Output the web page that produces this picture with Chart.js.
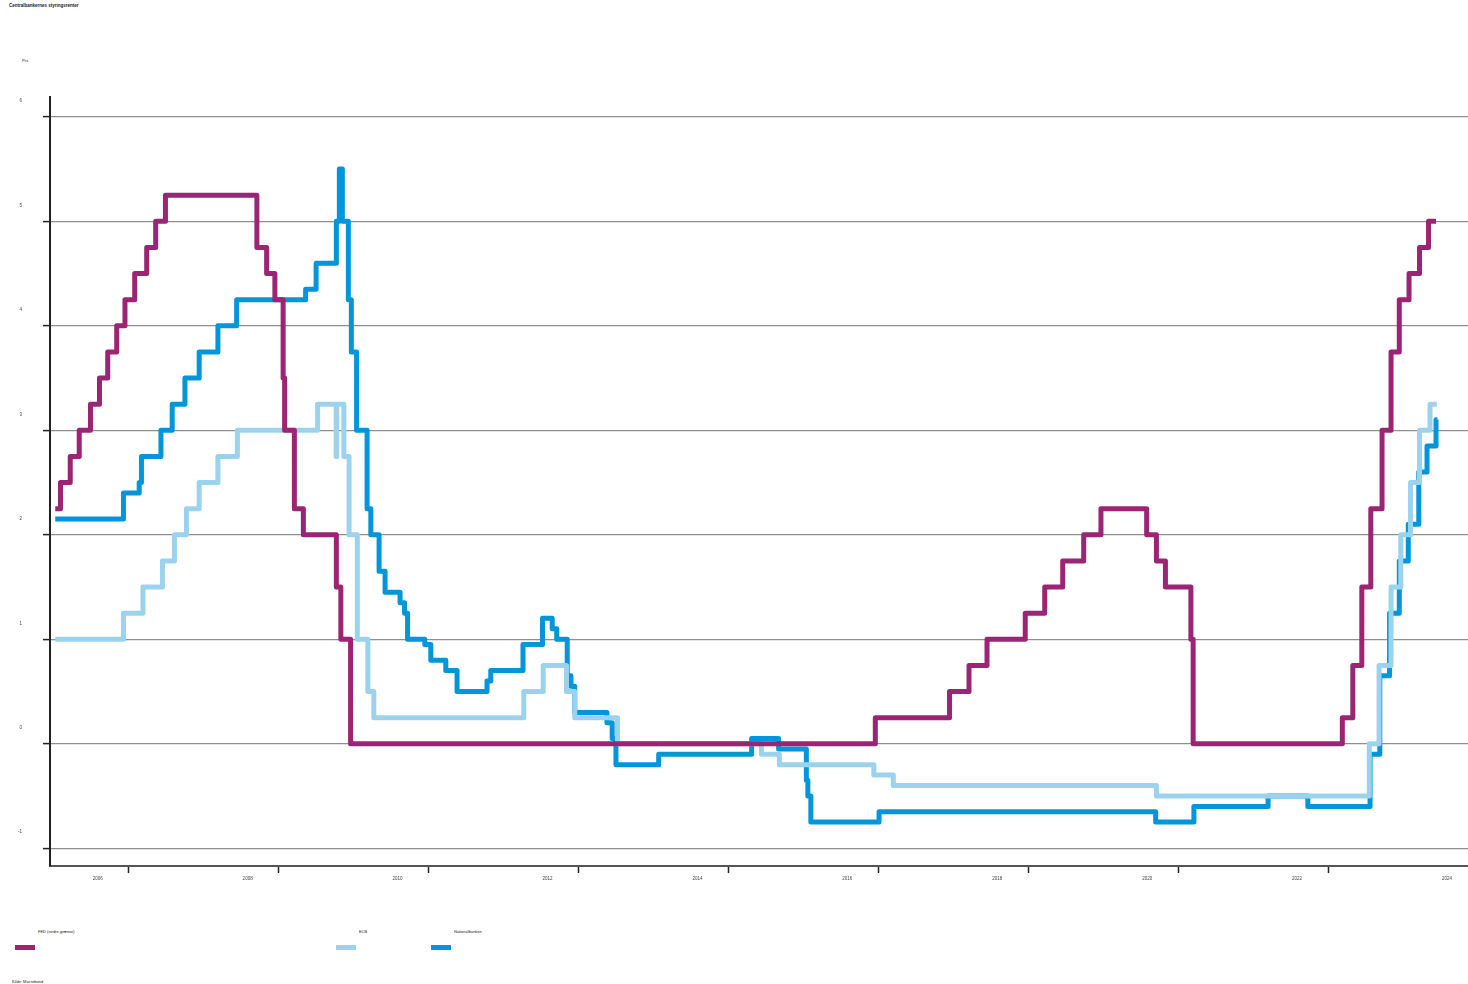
<!DOCTYPE html>
<html>
<head>
<meta charset="utf-8">
<script src="https://cdn.jsdelivr.net/npm/chart.js@4.4.0/dist/chart.umd.min.js"></script>
<style>
  html, body { margin: 0; padding: 0; background: #fff; overflow: hidden; }
  body { width: 1468px; height: 984px; position: relative; font-family: "Liberation Sans", Arial, sans-serif; color: #222; }
  #wrap { position: absolute; left: 0; top: 0; width: 1478px; height: 900px; }
  .txt { position: absolute; white-space: nowrap; font-size: 4px; line-height: 6px; }
  .title { font-weight: bold; font-size: 4.5px; }
  .swatch { position: absolute; width: 20px; height: 5px; }
</style>
</head>
<body>
<div class="txt title" style="left:9px; top:3px;">Centralbankernes styringsrenter</div>
<div class="txt" style="left:22px; top:58px;">Pct.</div>
<div id="wrap"><canvas id="rateChart" width="1478" height="900"></canvas></div>
<div id="legend"></div>
<div class="txt" style="left:12px; top:979px;">Kilde: Macrobond</div>
<script>
// Styringsrenter - aarstal som decimaltal, rente i pct.
var fedDates = [2005.02, 2005.09, 2005.22, 2005.34, 2005.49, 2005.61, 2005.72, 2005.84, 2005.95,
    2006.08, 2006.24, 2006.36, 2006.49, 2007.71, 2007.84, 2007.95, 2008.06, 2008.08, 2008.21, 2008.33,
    2008.77, 2008.83, 2008.96, 2015.96, 2016.95, 2017.21, 2017.45, 2017.96, 2018.22, 2018.46, 2018.74,
    2018.97, 2019.58, 2019.71, 2019.83, 2020.17, 2020.2, 2022.19, 2022.33, 2022.45, 2022.57, 2022.72,
    2022.84, 2022.95, 2023.08, 2023.22, 2023.34, 2023.44];
var fedRates = [2.25, 2.5, 2.75, 3.0, 3.25, 3.5, 3.75, 4.0, 4.25,
    4.5, 4.75, 5.0, 5.25, 4.75, 4.5, 4.25, 3.5, 3.0, 2.25, 2.0,
    1.5, 1.0, 0, 0.25, 0.5, 0.75, 1.0, 1.25, 1.5, 1.75, 2.0,
    2.25, 2.0, 1.75, 1.5, 1.0, 0, 0.25, 0.75, 1.5, 2.25, 3.0,
    3.75, 4.25, 4.5, 4.75, 5.0, 5.0];

var ecbDates = [2005.02, 2005.93, 2006.19, 2006.45, 2006.61, 2006.77, 2006.94, 2007.19, 2007.45,
    2008.52, 2008.768, 2008.775, 2008.87, 2008.94, 2009.05, 2009.19, 2009.27, 2011.27, 2011.53,
    2011.84, 2011.95, 2012.52, 2014.44, 2014.68, 2015.94, 2016.2, 2019.71, 2022.55, 2022.68,
    2022.84, 2022.97, 2023.1, 2023.22, 2023.36, 2023.45];
var ecbRates = [1.0, 1.25, 1.5, 1.75, 2.0, 2.25, 2.5, 2.75, 3.0,
    3.25, 2.75, 3.25, 2.75, 2.0, 1.0, 0.5, 0.25, 0.5, 0.75,
    0.5, 0.25, 0, -0.1, -0.2, -0.3, -0.4, -0.5, 0, 0.75,
    1.5, 2.0, 2.5, 3.0, 3.25, 3.25];

var nbDates = [2005.02, 2005.93, 2006.14, 2006.17, 2006.43, 2006.58, 2006.75, 2006.94, 2007.19, 2007.44,
    2008.36, 2008.5, 2008.77, 2008.81, 2008.85, 2008.93, 2008.97, 2009.04, 2009.18, 2009.23,
    2009.34, 2009.42, 2009.62, 2009.68, 2009.72, 2009.95, 2010.03, 2010.23, 2010.38, 2010.78,
    2010.83, 2011.26, 2011.52, 2011.65, 2011.71, 2011.85, 2011.9, 2011.95, 2012.38, 2012.45,
    2012.5, 2013.07, 2014.31, 2014.67, 2015.04, 2015.06, 2015.1, 2016.01, 2019.7, 2020.21,
    2021.2, 2021.73, 2022.56, 2022.69, 2022.82, 2022.95, 2023.07, 2023.21, 2023.32, 2023.44, 2023.46];
var nbRates = [2.15, 2.4, 2.5, 2.75, 3.0, 3.25, 3.5, 3.75, 4.0, 4.25,
    4.35, 4.6, 5.0, 5.5, 5.0, 4.25, 3.75, 3.0, 2.25, 2.0,
    1.65, 1.45, 1.35, 1.25, 1.0, 0.95, 0.8, 0.7, 0.5, 0.6,
    0.7, 0.95, 1.2, 1.1, 1.0, 0.65, 0.55, 0.3, 0.2, 0.05,
    -0.2, -0.1, 0.05, -0.05, -0.35, -0.5, -0.75, -0.65, -0.75, -0.6,
    -0.5, -0.6, -0.1, 0.65, 1.25, 1.75, 2.1, 2.6, 2.85, 3.1, 3.1];

var seriesNames = ['FED (nedre grænse)', 'ECB', 'Nationalbanken'];
var seriesColors = ['#9c2474', '#9bd3ef', '#0096d9'];
var xTickYears = [2006, 2008, 2010, 2012, 2014, 2016, 2018, 2020, 2022, 2024];
var yTickValues = [-1, 0, 1, 2, 3, 4, 5, 6];

function toPoints(dates, rates) {
    var pts = [];
    for (var i = 0; i < dates.length; i++)
        pts.push({ x: dates[i], y: rates[i] });
    return pts;
}

var allSeries = [toPoints(fedDates, fedRates), toPoints(ecbDates, ecbRates), toPoints(nbDates, nbRates)];
var datasets = [];
for (var i = 0; i < allSeries.length; i++) {
    datasets.push({
        label: seriesNames[i],
        data: allSeries[i],
        borderColor: seriesColors[i],
        backgroundColor: seriesColors[i],
        borderWidth: 5,
        stepped: true,
        fill: false,
        pointRadius: 0,
        borderJoinStyle: 'round',
        borderCapStyle: 'butt'
    });
}

// legende under grafen
var legendPos = [{ sw: 15, tx: 38 }, { sw: 336, tx: 359 }, { sw: 431, tx: 454 }];
var legendDiv = document.getElementById('legend');
for (var k = 0; k < seriesNames.length; k++) {
    var sw = document.createElement('div');
    sw.className = 'swatch';
    sw.style.left = legendPos[k].sw + 'px';
    sw.style.top = '945px';
    sw.style.background = seriesColors[k];
    legendDiv.appendChild(sw);
    var tx = document.createElement('div');
    tx.className = 'txt';
    tx.style.left = legendPos[k].tx + 'px';
    tx.style.top = '929px';
    tx.textContent = seriesNames[k];
    legendDiv.appendChild(tx);
}

var tickFont = { family: '"Liberation Sans", Arial, sans-serif', size: 4.5 };

var ctx = document.getElementById('rateChart').getContext('2d');
var rateChart = new Chart(ctx, {
    type: 'line',
    data: { datasets: datasets },
    options: {
        responsive: false,
        animation: false,
        layout: { padding: { top: 97, left: 0, right: 0, bottom: 0 } },
        plugins: {
            legend: { display: false },
            tooltip: { enabled: false }
        },
        scales: {
            x: {
                type: 'linear',
                min: 2004.95,
                max: 2024,
                afterBuildTicks: function(scale) {
                    scale.ticks = xTickYears.map(function(v) { return { value: v }; });
                },
                afterFit: function(scale) {
                    scale.height = 34;
                    scale.paddingLeft = 0;
                    scale.paddingRight = 0;
                },
                ticks: {
                    autoSkip: false,
                    maxRotation: 0,
                    labelOffset: -31,
                    padding: 3,
                    color: '#444',
                    font: tickFont,
                    callback: function(v) { return String(v); }
                },
                grid: {
                    display: true,
                    drawOnChartArea: false,
                    drawTicks: true,
                    tickLength: 7,
                    tickColor: '#222',
                    tickWidth: 1.5
                },
                border: { display: true, color: '#555', width: 2 }
            },
            y: {
                min: -1.17,
                max: 6.19,
                afterBuildTicks: function(scale) {
                    scale.ticks = yTickValues.map(function(v) { return { value: v }; });
                },
                afterFit: function(scale) {
                    scale.width = 50;
                    scale.paddingTop = 0;
                    scale.paddingBottom = 0;
                },
                ticks: {
                    autoSkip: false,
                    labelOffset: -16,
                    padding: 21,
                    color: '#444',
                    font: tickFont,
                    callback: function(v) { return String(v); }
                },
                grid: {
                    color: '#8f8f8f',
                    lineWidth: 1.2,
                    drawTicks: true,
                    tickLength: 7,
                    tickColor: '#222',
                    tickWidth: 1.5
                },
                border: { display: true, color: '#222', width: 2 }
            }
        }
    }
});
</script>
</body>
</html>
